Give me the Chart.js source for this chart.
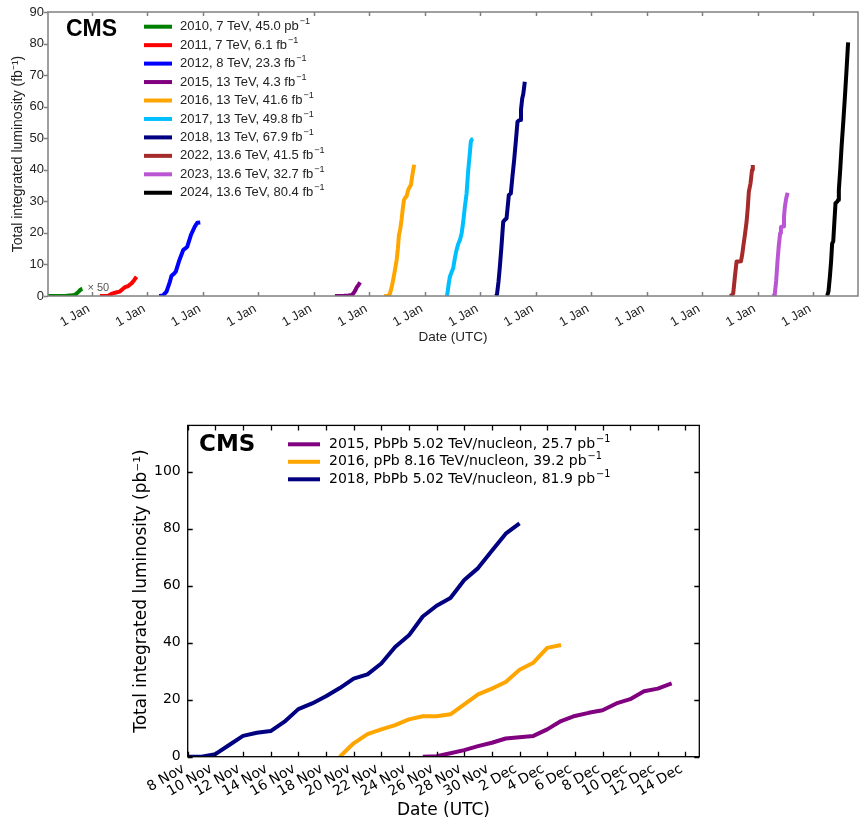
<!DOCTYPE html>
<html lang="en">
<head>
    <meta charset="UTF-8" />
    <title>CMS integrated luminosity</title>
    <script src="https://cdn.jsdelivr.net/npm/chart.js"></script>
    <style>
        body { margin: 0; background: #fff; }
        canvas { position: absolute; left: 0; }
    </style>
</head>
<body>
    <canvas id="ppChart" width="860" height="345" style="top:0"></canvas>
    <canvas id="hiChart" width="860" height="411" style="top:410px"></canvas>

    <script>
        // proton-proton runs: [day of year, delivered luminosity in fb^-1]
        const pp2010 = [[78,0],[150,0.0002],[200,0.001],[243,0.004],[256,0.008],[268,0.017],[280,0.028],[290,0.038],[298,0.043],[305,0.045]];
        const pp2011 = [[55,0],[90,0.02],[109,0.1],[125,0.5],[140,0.85],[160,1.1],[186,1.4],[205,2.2],[219,2.8],[239,3.1],[252,3.6],[263,4.0],[280,5.0],[296,6.1]];
        const pp2012 = [[80,0],[105,0.2],[128,1.4],[150,4.5],[161,6.4],[176,7.0],[189,7.7],[210,11],[238,14.6],[250,15.0],[264,15.6],[290,19.5],[314,22],[330,23.2],[350,23.3]];
        const pp2015 = [[141,0],[170,0.02],[200,0.05],[230,0.15],[252,0.3],[262,0.8],[275,1.8],[285,2.8],[296,3.5],[307,4.3]];
        const pp2016 = [[100,0],[125,0.1],[137,0.6],[148,2.5],[159,5.1],[170,8],[182,11.4],[190,15],[197,19.3],[205,21],[214,24.1],[222,27.5],[230,30.4],[240,31.3],[247,31.5],[258,33.6],[267,34.5],[276,35.2],[286,38.5],[297,41.6]];
        const pp2017 = [[145,0],[150,0.5],[160,4],[167,6.1],[178,7.5],[189,8.8],[200,12],[211,14.6],[222,16.5],[233,17.7],[245,20],[255,23.5],[265,28],[277,32.5],[288,39.9],[298,45],[305,48.9],[312,49.6],[320,49.8]];
        const pp2018 = [[105,0],[112,0.5],[122,4.5],[131,9.3],[142,16],[153,23.5],[165,24.2],[175,24.6],[183,28.5],[190,32],[203,32.5],[214,38],[225,43.1],[236,49],[247,55.2],[256,55.6],[264,55.8],[270,59],[278,62.6],[285,64],[295,67.9]];
        const pp2022 = [[184,0],[195,0.2],[206,0.8],[217,6],[228,10.9],[245,10.9],[257,11],[265,13],[272,15.6],[282,19],[294,23.5],[302,28],[309,33.1],[320,35.7],[330,40],[335,41.5]];
        const pp2023 = [[104,0],[110,0.3],[115,0.8],[124,5],[133,11.4],[141,16],[150,20],[155,21.8],[165,22],[170,22],[175,25],[181,28.3],[190,31],[199,32.7]];
        const pp2024 = [[94,0],[103,1.5],[112,6.1],[120,11],[127,16.7],[134,17.2],[141,23],[149,29.4],[160,29.9],[166,30.4],[171,33.6],[180,40],[189,47.3],[200,55],[211,63.2],[222,72],[232,80.4]];

        const ppRuns = [pp2010, pp2011, pp2012, pp2015, pp2016, pp2017, pp2018, pp2022, pp2023, pp2024];
        const ppYears = [2010, 2011, 2012, 2015, 2016, 2017, 2018, 2022, 2023, 2024];
        const ppEnergy = ['7', '7', '8', '13', '13', '13', '13', '13.6', '13.6', '13.6'];
        const ppUnit = ['pb', 'fb', 'fb', 'fb', 'fb', 'fb', 'fb', 'fb', 'fb', 'fb'];
        const ppScale = [50, 1, 1, 1, 1, 1, 1, 1, 1, 1];
        const ppColors = ['#008000', '#ff0000', '#0000ff', '#800080', '#ffa500', '#00bfff', '#000080', '#a52a2a', '#ba55d3', '#000000'];
        const yearTicks = [2011, 2012, 2013, 2014, 2015, 2016, 2017, 2018, 2019, 2020, 2021, 2022, 2023, 2024];

        // heavy-ion runs: [day counted from 1 Nov (1 Dec = 31), luminosity in pb^-1]
        const hi2015 = [[25,0],[26,0.2],[27,1.2],[28,2.3],[29,3.7],[30,4.9],[31,6.4],[32,6.8],[33,7.3],[34,9.6],[35,12.5],[36,14.3],[37,15.4],[38,16.3],[39,18.7],[40,20.2],[41,23.0],[42,23.9],[43,25.7]];
        const hi2016 = [[19,0],[20,4.7],[21,7.9],[22,9.6],[23,11.1],[24,13.1],[25,14.2],[26,14.2],[27,14.9],[28,18.4],[29,21.9],[30,23.9],[31,26.2],[32,30.5],[33,33.0],[34,38.2],[35,39.2]];
        const hi2018 = [[8,0],[9,0],[10,0.9],[11,4.1],[12,7.3],[13,8.4],[14,9.0],[15,12.3],[16,16.7],[17,18.7],[18,21.2],[19,24.1],[20,27.4],[21,28.9],[22,32.7],[23,38.5],[24,42.6],[25,49.2],[26,53.0],[27,55.7],[28,62.0],[29,66.2],[30,72.3],[31,78.3],[32,81.9]];

        const hiRuns = [hi2015, hi2016, hi2018];
        const hiNames = ['2015, PbPb 5.02 TeV/nucleon', '2016, pPb 8.16 TeV/nucleon', '2018, PbPb 5.02 TeV/nucleon'];
        const hiColors = ['#800080', '#ffa500', '#000080'];
        const dayTicks = [8, 10, 12, 14, 16, 18, 20, 22, 24, 26, 28, 30, 32, 34, 36, 38, 40, 42, 44];

        const last = run => run[run.length - 1][1];

        // text with a small raised exponent, like "fb^-1"
        function drawSup(ctx, base, sup, x, y, size, family, color) {
            ctx.fillStyle = color;
            ctx.font = `${size}px ${family}`;
            ctx.fillText(base, x, y);
            const w = ctx.measureText(base).width;
            ctx.font = `${size * 0.7}px ${family}`;
            ctx.fillText(sup, x + w + 1, y - size * 0.38);
        }

        // box around the plot with ticks on all four sides
        const frameTicks = {
            id: 'frameTicks',
            afterDraw(chart, args, o) {
                const { ctx, chartArea: a, scales: { x, y } } = chart;
                ctx.save();
                ctx.strokeStyle = o.color;
                ctx.lineWidth = o.width;
                ctx.beginPath();
                x.ticks.forEach(t => {
                    const px = Math.round(x.getPixelForValue(t.value)) + 0.5;
                    ctx.moveTo(px, a.bottom); ctx.lineTo(px, a.bottom - o.len);
                    ctx.moveTo(px, a.top); ctx.lineTo(px, a.top + o.len);
                });
                y.ticks.forEach(t => {
                    const py = Math.round(y.getPixelForValue(t.value)) + 0.5;
                    if (o.yOutside) {
                        ctx.moveTo(a.left, py); ctx.lineTo(a.left - o.len, py);
                    } else {
                        ctx.moveTo(a.left, py); ctx.lineTo(a.left + o.len, py);
                        ctx.moveTo(a.right, py); ctx.lineTo(a.right - o.len, py);
                    }
                });
                ctx.stroke();
                ctx.strokeRect(a.left, a.top, a.right - a.left, a.bottom - a.top);
                ctx.restore();
            }
        };

        // CMS tag and the legend rows
        const legendBox = {
            id: 'legendBox',
            afterDraw(chart, args, o) {
                const ctx = chart.ctx;
                ctx.save();
                ctx.textBaseline = 'middle';
                ctx.textAlign = 'left';
                ctx.fillStyle = '#000';
                ctx.font = `bold ${o.cmsSize}px ${o.family}`;
                ctx.fillText('CMS', o.cmsX, o.cmsY);
                chart.data.datasets.forEach((ds, i) => {
                    const y = o.y + i * o.rowGap;
                    ctx.strokeStyle = ds.borderColor;
                    ctx.lineWidth = o.lineWidth;
                    ctx.beginPath();
                    ctx.moveTo(o.x, y);
                    ctx.lineTo(o.x + o.lineLen, y);
                    ctx.stroke();
                    drawSup(ctx, ds.label, '\u22121', o.x + o.lineLen + o.gap, y, o.size, o.family, o.color);
                });
                if (o.note) {
                    // scale factor written next to the end of the first run
                    const ds = chart.data.datasets[0].data;
                    const end = ds[ds.length - 1];
                    const px = chart.scales.x.getPixelForValue(end.x) + 5;
                    const py = chart.scales.y.getPixelForValue(0) - 8;
                    ctx.font = `${o.size - 2}px ${o.family}`;
                    ctx.fillStyle = '#555';
                    ctx.fillText(o.note, px, py);
                }
                ctx.restore();
            }
        };

        const ppFont = '"Liberation Sans", Arial, sans-serif';
        const hiFont = '"DejaVu Sans", sans-serif';

        new Chart(document.getElementById('ppChart'), {
            type: 'scatter',
            data: {
                datasets: ppRuns.map((run, i) => {
                    const total = ppUnit[i] === 'pb' ? last(run) * 1000 : last(run);
                    return {
                        label: `${ppYears[i]}, ${ppEnergy[i]} TeV, ${total.toFixed(1)} ${ppUnit[i]}`,
                        data: run.map(([d, v]) => ({ x: ppYears[i] + (d - 1) / 365, y: v * ppScale[i] })),
                        borderColor: ppColors[i],
                        backgroundColor: ppColors[i],
                        showLine: true,
                        pointRadius: 0,
                        borderWidth: 4,
                        borderJoinStyle: 'round'
                    };
                })
            },
            options: {
                responsive: false,
                animation: false,
                layout: { padding: { left: 10, top: 12, right: 2, bottom: 0 } },
                plugins: {
                    legend: { display: false },
                    tooltip: { enabled: false },
                    frameTicks: { color: '#808080', width: 1.5, len: 4, yOutside: true },
                    legendBox: {
                        family: ppFont, size: 13, color: '#222',
                        cmsX: 66, cmsY: 30, cmsSize: 23,
                        x: 144, y: 26.7, rowGap: 18.45, lineLen: 28, lineWidth: 4, gap: 8,
                        note: '\u00d7 50'
                    }
                },
                scales: {
                    x: {
                        type: 'linear',
                        min: 2010.212,
                        max: 2024.811,
                        afterBuildTicks: s => { s.ticks = yearTicks.map(v => ({ value: v })); },
                        afterFit: s => { s.height = 49; },
                        grid: { display: false, drawTicks: false },
                        border: { display: false },
                        ticks: {
                            autoSkip: false, minRotation: 30, maxRotation: 30, padding: 5, labelOffset: -3,
                            color: '#222', font: { family: ppFont, size: 13 },
                            callback: () => '1 Jan'
                        },
                        title: { display: true, text: 'Date (UTC)', color: '#222', font: { family: ppFont, size: 13.5 }, padding: 0 }
                    },
                    y: {
                        min: 0,
                        max: 90,
                        afterFit: s => { s.width = 38; },
                        grid: { display: false, drawTicks: false },
                        border: { display: false },
                        ticks: { stepSize: 10, padding: 4, color: '#222', font: { family: ppFont, size: 13 } },
                        title: { display: true, text: 'Total integrated luminosity (fb\u207b\u00b9)', color: '#222', font: { family: ppFont, size: 14 }, padding: 0 }
                    }
                }
            },
            plugins: [frameTicks, legendBox]
        });

        new Chart(document.getElementById('hiChart'), {
            type: 'scatter',
            data: {
                datasets: hiRuns.map((run, i) => ({
                    label: `${hiNames[i]}, ${last(run).toFixed(1)} pb`,
                    data: run.map(([d, v]) => ({ x: d, y: v })),
                    borderColor: hiColors[i],
                    backgroundColor: hiColors[i],
                    showLine: true,
                    pointRadius: 0,
                    borderWidth: 4,
                    borderJoinStyle: 'round'
                }))
            },
            options: {
                responsive: false,
                animation: false,
                layout: { padding: { left: 131.5, top: 14, right: 160.7, bottom: 0 } },
                plugins: {
                    legend: { display: false },
                    tooltip: { enabled: false },
                    frameTicks: { color: '#000', width: 1.3, len: 5, yOutside: false },
                    legendBox: {
                        family: hiFont, size: 14, color: '#000',
                        cmsX: 199, cmsY: 35.5, cmsSize: 23,
                        x: 288, y: 34.3, rowGap: 17.5, lineLen: 32, lineWidth: 4, gap: 9
                    }
                },
                scales: {
                    x: {
                        type: 'linear',
                        min: 8,
                        max: 45,
                        afterBuildTicks: s => { s.ticks = dayTicks.map(v => ({ value: v })); },
                        afterFit: s => { s.height = 64.3; },
                        grid: { display: false, drawTicks: false },
                        border: { display: false },
                        ticks: {
                            autoSkip: false, minRotation: 30, maxRotation: 30, padding: 4, labelOffset: -4,
                            color: '#000', font: { family: hiFont, size: 14 },
                            callback: v => (v <= 30 ? `${v} Nov` : `${v - 30} Dec`)
                        },
                        title: { display: true, text: 'Date (UTC)', color: '#000', font: { family: hiFont, size: 17 }, padding: 0 }
                    },
                    y: {
                        min: 0,
                        max: 116.3,
                        afterBuildTicks: s => { s.ticks = [0, 20, 40, 60, 80, 100].map(v => ({ value: v })); },
                        afterFit: s => { s.width = 56.2; },
                        grid: { display: false, drawTicks: false },
                        border: { display: false },
                        ticks: { padding: 7, color: '#000', font: { family: hiFont, size: 14 } },
                        title: { display: true, text: 'Total integrated luminosity (pb\u207b\u00b9)', color: '#000', font: { family: hiFont, size: 17 }, padding: 0 }
                    }
                }
            },
            plugins: [frameTicks, legendBox]
        });
    </script>
</body>
</html>
